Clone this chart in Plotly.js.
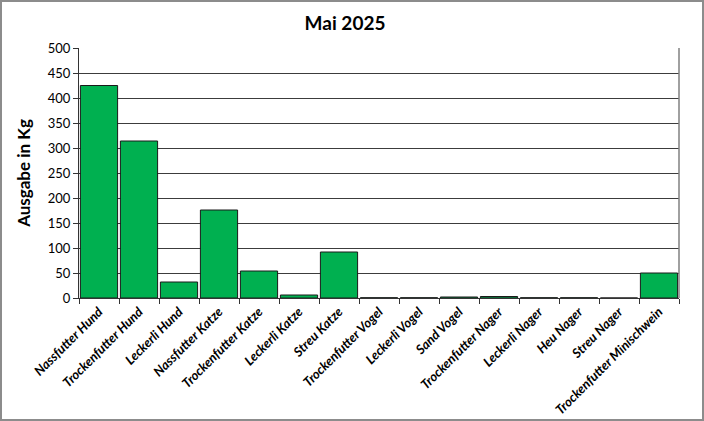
<!DOCTYPE html>
<html>
<head>
<meta charset="utf-8">
<script src="https://cdn.plot.ly/plotly-3.0.1.min.js"></script>
<style>
  html, body { margin: 0; padding: 0; background: #fff; }
  #chart { width: 700px; height: 417px; border: 2px solid #8c8c8c; }
</style>
</head>
<body>
<div id="chart"></div>
<script>
// Mai 2025 – Ausgabe in Kg je Futterart

const categories = [
  "Nassfutter Hund", "Trockenfutter Hund", "Leckerli Hund",
  "Nassfutter Katze", "Trockenfutter Katze", "Leckerli Katze", "Streu Katze",
  "Trockenfutter Vogel", "Leckerli Vogel", "Sand Vogel",
  "Trockenfutter Nager", "Leckerli Nager", "Heu Nager", "Streu Nager",
  "Trockenfutter Minischwein"
];
const kg = [425, 314, 32, 176, 54, 6, 92, 0.5, 0.5, 2, 3, 0.5, 0.5, 0, 50];
const yTicks = [0, 50, 100, 150, 200, 250, 300, 350, 400, 450, 500];

const FONT = "Lato, 'Open Sans', 'Liberation Sans', sans-serif";

Plotly.newPlot("chart", [
  { type: "bar", x: categories, y: kg,
    marker: { color: "#00b050", line: { color: "#1a1a1a", width: 1 } },
    hoverinfo: "x+y" }
], {
  width: 700, height: 417,
  margin: { l: 77, r: 23, t: 46, b: 121 },
  paper_bgcolor: "#fff", plot_bgcolor: "#fff",
  font: { family: FONT, color: "#000" },
  bargap: 0.07,
  showlegend: false,
  title: { text: "<b>Mai 2025</b>", x: 0.49, xanchor: "center", y: 0.95, yanchor: "middle",
           font: { size: 19, family: FONT } },
  xaxis: {
    type: "category", tickangle: -45, tickson: "boundaries",
    ticks: "outside", ticklen: 5, tickcolor: "#333",
    showline: true, linecolor: "#333", linewidth: 1,
    showgrid: false,
    tickfont: { size: 13, family: FONT, weight: "bold", style: "italic" }
  },
  yaxis: {
    range: [0, 500], tickvals: yTicks, ticktext: yTicks.map(String),
    ticks: "outside", ticklen: 5, tickcolor: "#333",
    showline: true, linecolor: "#333", linewidth: 1, mirror: false,
    gridcolor: "#3c3c3c", gridwidth: 1, zeroline: false,
    tickfont: { size: 13, family: FONT },
    title: { text: "<b>Ausgabe in Kg</b>", standoff: 12, font: { size: 17, family: FONT } }
  },
  shapes: [
    { type: "line", xref: "paper", yref: "paper", x0: 1, x1: 1, y0: 0, y1: 1,
      line: { color: "#808080", width: 1.5 } }
  ]
}, { displayModeBar: false, staticPlot: true });
</script>
</body>
</html>
